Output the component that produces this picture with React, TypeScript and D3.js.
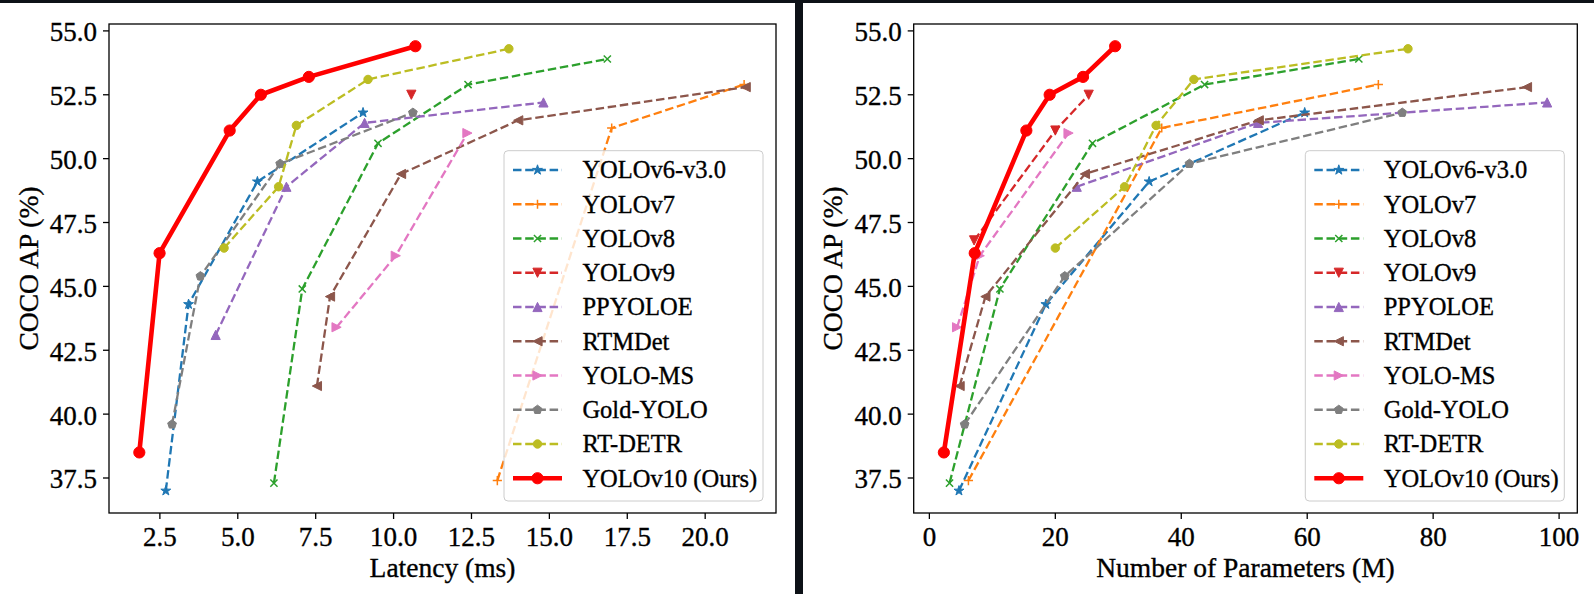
import React from "react";
import * as d3 from "d3";

// ---------------- data ----------------
const seriesNames = [
  "YOLOv6-v3.0",
  "YOLOv7",
  "YOLOv8",
  "YOLOv9",
  "PPYOLOE",
  "RTMDet",
  "YOLO-MS",
  "Gold-YOLO",
  "RT-DETR",
  "YOLOv10 (Ours)",
];
const seriesColors = [
  "#1f77b4",
  "#ff7f0e",
  "#2ca02c",
  "#d62728",
  "#9467bd",
  "#8c564b",
  "#e377c2",
  "#7f7f7f",
  "#bcbd22",
  "#ff0000",
];
const seriesMarkers = [
  "star",
  "plus",
  "x",
  "triDown",
  "triUp",
  "triLeft",
  "triRight",
  "pentagon",
  "circle",
  "bigCircle",
];

const yolov6Latency = [2.69, 3.42, 5.63, 9.02];
const yolov6LatencyAP = [37.0, 44.3, 49.1, 51.8];
const yolov6Params = [4.7, 18.5, 34.9, 59.6];
const yolov6ParamsAP = [37.0, 44.3, 49.1, 51.8];

const yolov7Latency = [13.33, 17.0, 21.25];
const yolov7LatencyAP = [37.4, 51.2, 52.9];
const yolov7Params = [6.2, 36.9, 71.3];
const yolov7ParamsAP = [37.4, 51.2, 52.9];

const yolov8Latency = [6.16, 7.07, 9.5, 12.39, 16.86];
const yolov8LatencyAP = [37.3, 44.9, 50.6, 52.9, 53.9];
const yolov8Params = [3.2, 11.2, 25.9, 43.7, 68.2];
const yolov8ParamsAP = [37.3, 44.9, 50.6, 52.9, 53.9];

const yolov9Latency = [10.57];
const yolov9LatencyAP = [52.5];
const yolov9Params = [7.1, 20.0, 25.3];
const yolov9ParamsAP = [46.8, 51.1, 52.5];

const ppyoloeLatency = [4.29, 6.56, 9.07, 14.81];
const ppyoloeLatencyAP = [43.1, 48.9, 51.4, 52.2];
const ppyoloeParams = [23.4, 52.2, 98.1];
const ppyoloeParamsAP = [48.9, 51.4, 52.2];

const rtmdetLatency = [7.54, 7.96, 10.24, 14.0, 21.3];
const rtmdetLatencyAP = [41.1, 44.6, 49.4, 51.5, 52.8];
const rtmdetParams = [4.8, 8.9, 24.7, 52.3, 94.9];
const rtmdetParamsAP = [41.1, 44.6, 49.4, 51.5, 52.8];

const yolomsLatency = [8.17, 10.07, 12.37];
const yolomsLatencyAP = [43.4, 46.2, 51.0];
const yolomsParams = [4.4, 8.0, 22.1];
const yolomsParamsAP = [43.4, 46.2, 51.0];

const goldLatency = [2.89, 3.8, 6.36, 10.62];
const goldLatencyAP = [39.6, 45.4, 49.8, 51.8];
const goldParams = [5.6, 21.5, 41.3, 75.1];
const goldParamsAP = [39.6, 45.4, 49.8, 51.8];

const rtdetrLatency = [4.56, 6.31, 6.88, 9.18, 13.7];
const rtdetrLatencyAP = [46.5, 48.9, 51.3, 53.1, 54.3];
const rtdetrParams = [20.0, 31.0, 36.0, 42.0, 76.0];
const rtdetrParamsAP = [46.5, 48.9, 51.3, 53.1, 54.3];

const yolov10Latency = [1.84, 2.49, 4.74, 5.74, 7.28, 10.7];
const yolov10LatencyAP = [38.5, 46.3, 51.1, 52.5, 53.2, 54.4];
const yolov10Params = [2.3, 7.2, 15.4, 19.1, 24.4, 29.5];
const yolov10ParamsAP = [38.5, 46.3, 51.1, 52.5, 53.2, 54.4];

const latencyTicks = [2.5, 5.0, 7.5, 10.0, 12.5, 15.0, 17.5, 20.0];
const paramsTicks = [0, 20, 40, 60, 80, 100];
const apTicks = [37.5, 40.0, 42.5, 45.0, 47.5, 50.0, 52.5, 55.0];

const latencyX = [
  yolov6Latency, yolov7Latency, yolov8Latency, yolov9Latency, ppyoloeLatency,
  rtmdetLatency, yolomsLatency, goldLatency, rtdetrLatency, yolov10Latency,
];
const latencyY = [
  yolov6LatencyAP, yolov7LatencyAP, yolov8LatencyAP, yolov9LatencyAP, ppyoloeLatencyAP,
  rtmdetLatencyAP, yolomsLatencyAP, goldLatencyAP, rtdetrLatencyAP, yolov10LatencyAP,
];
const paramsX = [
  yolov6Params, yolov7Params, yolov8Params, yolov9Params, ppyoloeParams,
  rtmdetParams, yolomsParams, goldParams, rtdetrParams, yolov10Params,
];
const paramsY = [
  yolov6ParamsAP, yolov7ParamsAP, yolov8ParamsAP, yolov9ParamsAP, ppyoloeParamsAP,
  rtmdetParamsAP, yolomsParamsAP, goldParamsAP, rtdetrParamsAP, yolov10ParamsAP,
];

// ---------------- styling ----------------
const FONT = "'Liberation Serif', 'Times New Roman', serif";
const TICK_FS = 27;
const LABEL_FS = 27.5;
const LEGEND_FS = 24.5;
const TEXT_STROKE = 0.35;
const TOP = 24;
const BOTTOM = 513;

function regularPoly(n: number, r: number, startDeg: number) {
  const pts: [number, number][] = [];
  for (let i = 0; i < n; i++) {
    const a = ((startDeg + (360 * i) / n) * Math.PI) / 180;
    pts.push([r * Math.cos(a), r * Math.sin(a)]);
  }
  return "M" + pts.map((p) => p.join(",")).join("L") + "Z";
}

function starPath(R: number) {
  const pts: [number, number][] = [];
  const rIn = R * 0.381966;
  for (let i = 0; i < 10; i++) {
    const a = ((-90 + 36 * i) * Math.PI) / 180;
    const rr = i % 2 === 0 ? R : rIn;
    pts.push([rr * Math.cos(a), rr * Math.sin(a)]);
  }
  return "M" + pts.map((p) => p.join(",")).join("L") + "Z";
}

function Marker({ kind, x, y, color }: { kind: string; x: number; y: number; color: string }) {
  const r = 4.6;
  const t = `translate(${x},${y})`;
  if (kind === "plus") {
    return (
      <path transform={t} d={`M${-r},0H${r}M0,${-r}V${r}`} stroke={color} strokeWidth={1.5} fill="none" />
    );
  }
  if (kind === "x") {
    const q = r * 0.78;
    return (
      <path transform={t} d={`M${-q},${-q}L${q},${q}M${-q},${q}L${q},${-q}`} stroke={color} strokeWidth={1.5} fill="none" />
    );
  }
  let d = "";
  if (kind === "star") d = starPath(r + 0.6);
  else if (kind === "triUp") d = `M0,${-r}L${-r},${r}L${r},${r}Z`;
  else if (kind === "triDown") d = `M0,${r}L${-r},${-r}L${r},${-r}Z`;
  else if (kind === "triLeft") d = `M${-r},0L${r},${-r}L${r},${r}Z`;
  else if (kind === "triRight") d = `M${r},0L${-r},${-r}L${-r},${r}Z`;
  else if (kind === "pentagon") d = regularPoly(5, r, -90);
  else if (kind === "circle") return <circle cx={x} cy={y} r={r - 0.4} fill={color} stroke={color} strokeWidth={1} />;
  else if (kind === "bigCircle") return <circle cx={x} cy={y} r={5.6} fill={color} stroke={color} strokeWidth={1} />;
  return <path transform={t} d={d} fill={color} stroke={color} strokeWidth={1} strokeLinejoin="miter" />;
}

function HText(props: any) {
  const { x, y, children, anchor, size } = props;
  return (
    <text
      x={x}
      y={y}
      textAnchor={anchor}
      fontFamily={FONT}
      fontSize={size}
      fill="#000"
      stroke="#000"
      strokeWidth={TEXT_STROKE}
    >
      {children}
    </text>
  );
}

function Panel({
  x0,
  x1,
  xs,
  ys,
  xTicks,
  xFmt,
  xLabel,
}: {
  x0: number;
  x1: number;
  xs: number[][];
  ys: number[][];
  xTicks: number[];
  xFmt: (v: number) => string;
  xLabel: string;
}) {
  const allX = xs.flat();
  const allY = ys.flat();
  const [xmin, xmax] = d3.extent(allX) as [number, number];
  const [ymin, ymax] = d3.extent(allY) as [number, number];
  const xm = (xmax - xmin) * 0.05;
  const ym = (ymax - ymin) * 0.05;
  const x = d3.scaleLinear().domain([xmin - xm, xmax + xm]).range([x0, x1]);
  const y = d3.scaleLinear().domain([ymin - ym, ymax + ym]).range([BOTTOM, TOP]);
  const line = d3
    .line<[number, number]>()
    .x((d) => x(d[0]))
    .y((d) => y(d[1]));

  const boxW = 259;
  const boxRight = x1 - 13;
  const boxLeft = boxRight - boxW;
  const boxTop = 150.7;
  const boxH = 350.3;
  const rowY0 = 170;
  const rowStep = 34.25;

  return (
    <g>
      {/* series */}
      {seriesNames.map((name, i) => {
        const pts = xs[i].map((v, j) => [v, ys[i][j]] as [number, number]);
        const isOurs = i === 9;
        return (
          <g key={name}>
            {pts.length > 1 && (
              <path
                d={line(pts) || ""}
                fill="none"
                stroke={seriesColors[i]}
                strokeWidth={isOurs ? 4.6 : 2.3}
                strokeDasharray={isOurs ? undefined : "8.5,3.7"}
                strokeLinejoin="round"
              />
            )}
            {pts.map((p, j) => (
              <Marker key={j} kind={seriesMarkers[i]} x={x(p[0])} y={y(p[1])} color={seriesColors[i]} />
            ))}
          </g>
        );
      })}

      {/* axes frame */}
      <rect x={x0} y={TOP} width={x1 - x0} height={BOTTOM - TOP} fill="none" stroke="#000" strokeWidth={1.3} />

      {/* y ticks */}
      {apTicks.map((t) => (
        <g key={"y" + t}>
          <line x1={x0 - 6} x2={x0} y1={y(t)} y2={y(t)} stroke="#000" strokeWidth={1.3} />
          <HText x={x0 - 12} y={y(t) + 10.5} anchor="end" size={TICK_FS}>
            {d3.format(".1f")(t)}
          </HText>
        </g>
      ))}

      {/* x ticks */}
      {xTicks.map((t) => (
        <g key={"x" + t}>
          <line x1={x(t)} x2={x(t)} y1={BOTTOM} y2={BOTTOM + 6} stroke="#000" strokeWidth={1.3} />
          <HText x={x(t)} y={546} anchor="middle" size={TICK_FS}>
            {xFmt(t)}
          </HText>
        </g>
      ))}

      {/* axis labels */}
      <HText x={(x0 + x1) / 2} y={577} anchor="middle" size={LABEL_FS}>
        {xLabel}
      </HText>
      <text
        transform={`translate(${x0 - 81},${(TOP + BOTTOM) / 2}) rotate(-90)`}
        textAnchor="middle"
        dominantBaseline="central"
        fontFamily={FONT}
        fontSize={LABEL_FS}
        fill="#000"
        stroke="#000"
        strokeWidth={TEXT_STROKE}
      >
        COCO AP (%)
      </text>

      {/* legend */}
      <rect
        x={boxLeft}
        y={boxTop}
        width={boxW}
        height={boxH}
        rx={4}
        ry={4}
        fill="#ffffff"
        fillOpacity={0.8}
        stroke="#cccccc"
        strokeWidth={1}
      />
      {seriesNames.map((name, i) => {
        const yc = rowY0 + i * rowStep;
        const isOurs = i === 9;
        return (
          <g key={"leg" + name}>
            <line
              x1={boxLeft + 9}
              x2={boxLeft + 58}
              y1={yc}
              y2={yc}
              stroke={seriesColors[i]}
              strokeWidth={isOurs ? 4.6 : 2.3}
              strokeDasharray={isOurs ? undefined : "8.5,3.7"}
            />
            <Marker kind={seriesMarkers[i]} x={boxLeft + 33.5} y={yc} color={seriesColors[i]} />
            <HText x={boxLeft + 78.4} y={yc + 8.3} anchor="start" size={LEGEND_FS}>
              {name}
            </HText>
          </g>
        );
      })}
    </g>
  );
}

export default function App() {
  return (
    <svg
      width={1594}
      height={594}
      style={{ position: "absolute", left: 0, top: 0, background: "#fff" }}
    >
      <rect x={0} y={0} width={1594} height={594} fill="#ffffff" />
      <Panel
        x0={109}
        x1={776}
        xs={latencyX}
        ys={latencyY}
        xTicks={latencyTicks}
        xFmt={d3.format(".1f")}
        xLabel="Latency (ms)"
      />
      <Panel
        x0={913.7}
        x1={1577.3}
        xs={paramsX}
        ys={paramsY}
        xTicks={paramsTicks}
        xFmt={d3.format("d")}
        xLabel="Number of Parameters (M)"
      />
      <rect x={0} y={0} width={1594} height={3} fill="#0d1117" />
      <rect x={795} y={0} width={8} height={594} fill="#0d1117" />
    </svg>
  );
}
